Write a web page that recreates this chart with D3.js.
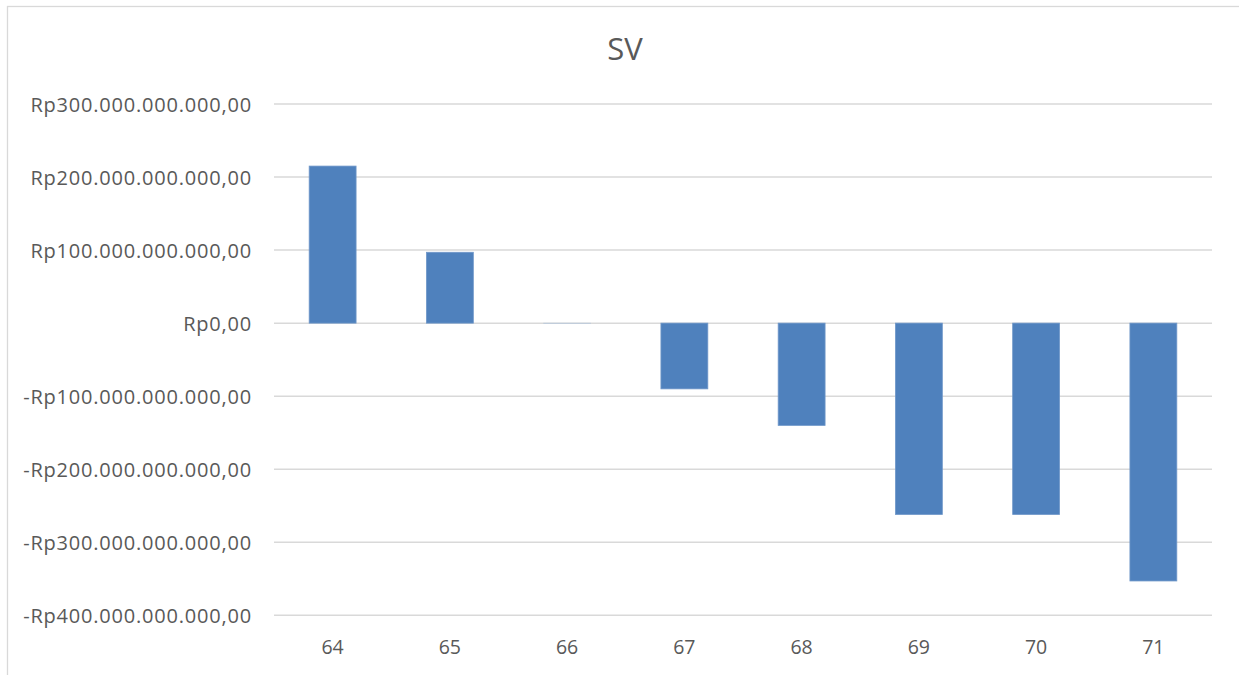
<!DOCTYPE html>
<html>
<head>
<meta charset="utf-8">
<script src="https://cdn.jsdelivr.net/npm/d3@7"></script>
<style>
  html, body { margin: 0; padding: 0; background: #fff; }
  svg { display: block; }
  text { font-family: "Open Sans", "Noto Sans", sans-serif; fill: #595959; }
</style>
</head>
<body>
<div id="chart"></div>
<script>
// data
const categories = ['64', '65', '66', '67', '68', '69', '70', '71']
const svValues = [215e9, 97e9, -0.5e9, -90e9, -140e9, -262e9, -262e9, -353e9]
const yTicks = [300e9, 200e9, 100e9, 0, -100e9, -200e9, -300e9, -400e9]
const chartTitle = 'SV'

const W = 1239, H = 675
const plot = { left: 274, right: 1212, top: 104, bottom: 615.3 }

// Rp300.000.000.000,00 style
function rupiah (v) {
  const neg = v < 0
  const s = Math.abs(v).toFixed(0).replace(/\B(?=(\d{3})+(?!\d))/g, '.')
  return (neg ? '-' : '') + 'Rp' + s + ',00'
}

const svg = d3.select('#chart').append('svg')
  .attr('width', W)
  .attr('height', H)

// chart frame (runs past the window on right/bottom)
svg.append('rect')
  .attr('x', 7.5).attr('y', 6.5)
  .attr('width', W + 20).attr('height', H + 20)
  .attr('fill', 'none')
  .attr('stroke', '#d9d9d9')
  .attr('stroke-width', 1.3)

let x = d3.scaleBand()
  .domain(categories)
  .range([plot.left, plot.right])
  .paddingInner(0.6)
  .paddingOuter(0.3)

let y = d3.scaleLinear()
  .domain([-400e9, 300e9])
  .range([plot.bottom, plot.top])

// gridlines
svg.append('g')
  .selectAll('line')
  .data(yTicks)
  .enter().append('line')
    .attr('x1', plot.left).attr('x2', plot.right)
    .attr('y1', d => y(d)).attr('y2', d => y(d))
    .attr('stroke', '#d9d9d9')
    .attr('stroke-width', 1.5)

// y labels
svg.append('g')
  .selectAll('text')
  .data(yTicks)
  .enter().append('text')
    .attr('x', 252)
    .attr('y', d => y(d) + 7.5)
    .attr('text-anchor', 'end')
    .style('font-size', '20px')
    .style('letter-spacing', '0.8px')
    .text(d => rupiah(d))

// bars
svg.append('g')
  .selectAll('rect')
  .data(categories.map((c, i) => ({ cat: c, v: svValues[i] })))
  .enter().append('rect')
    .attr('x', d => x(d.cat))
    .attr('width', x.bandwidth())
    .attr('y', d => y(Math.max(0, d.v)))
    .attr('height', d => Math.abs(y(d.v) - y(0)))
    .attr('fill', '#4f81bd')
    .attr('stroke', d => Math.abs(d.v) < 5e9 ? '#c9d3de' : '#6f97c9')
    .attr('stroke-width', 0.8)

// x labels
svg.append('g')
  .selectAll('text')
  .data(categories)
  .enter().append('text')
    .attr('x', d => x(d) + x.bandwidth() / 2)
    .attr('y', 654)
    .attr('text-anchor', 'middle')
    .style('font-size', '19.5px')
    .text(d => d)

// title
svg.append('text')
  .attr('x', 625)
  .attr('y', 60)
  .attr('text-anchor', 'middle')
  .style('font-size', '31px')
  .text(chartTitle)
</script>
</body>
</html>
